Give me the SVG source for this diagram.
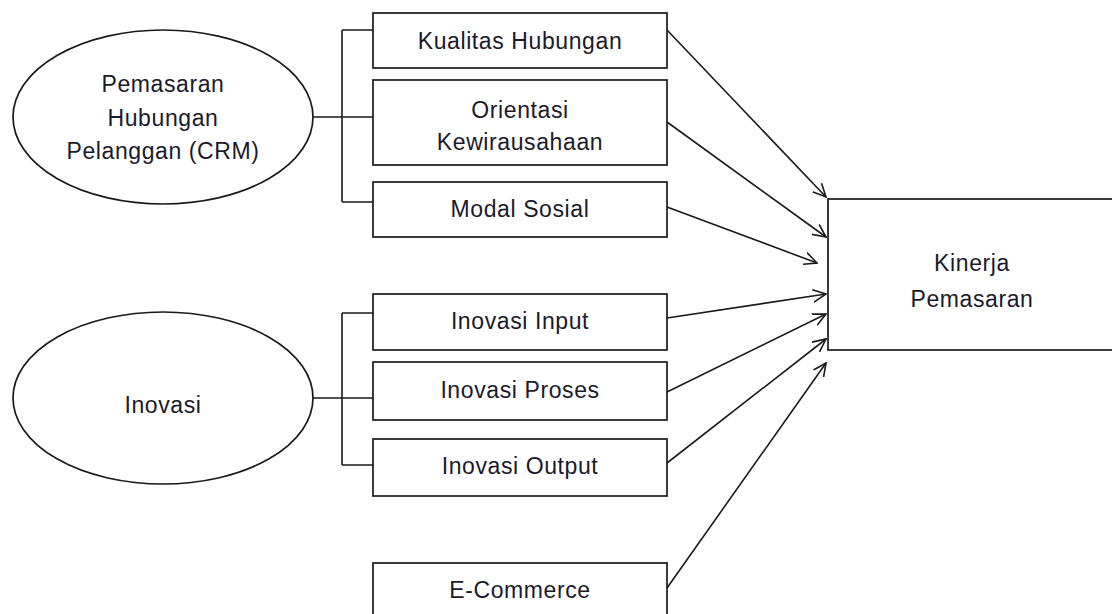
<svg xmlns="http://www.w3.org/2000/svg" width="1112" height="614" viewBox="0 0 1112 614">
<style>
.s{fill:#fff;stroke:#1a1a1a;stroke-width:1.7}
.t{font-family:"Liberation Sans",Arial,sans-serif;font-size:23px;fill:#1a1a2a;text-anchor:middle;letter-spacing:0.6px}
.c{fill:none;stroke:#1a1a1a;stroke-width:1.6}
.a{fill:none;stroke:#1a1a1a;stroke-width:1.6;marker-end:url(#ah)}
</style>
<defs>
<marker id="ah" viewBox="0 0 14 14" refX="13" refY="7" markerWidth="14" markerHeight="14" markerUnits="userSpaceOnUse" orient="auto">
<polyline points="0,0.8 13,7 0,13.2" fill="none" stroke="#1a1a1a" stroke-width="1.6"/>
</marker>
</defs>
<rect width="1112" height="614" fill="#fff"/>
<g id="connectors">
<path class="c" d="M313,117 H374 M342,30 V202 M342,30 H374 M342,202 H374"/>
<path class="c" d="M313,398 H374 M342,313 V465 M342,313 H374 M342,465 H374"/>
<line class="a" x1="667" y1="30" x2="826" y2="197"/>
<line class="a" x1="667" y1="122" x2="826" y2="237"/>
<line class="a" x1="667" y1="207" x2="817" y2="263"/>
<line class="a" x1="667" y1="318" x2="826" y2="294"/>
<line class="a" x1="667" y1="392" x2="826" y2="314"/>
<line class="a" x1="667" y1="463" x2="826" y2="339"/>
<line class="a" x1="667" y1="588" x2="826" y2="363"/>
</g>
<g id="crm">
<ellipse class="s" cx="163" cy="117" rx="150" ry="87"/>
<text class="t" x="163" y="92">Pemasaran</text>
<text class="t" x="163" y="126">Hubungan</text>
<text class="t" x="163" y="159">Pelanggan (CRM)</text>
</g>
<g id="inovasi">
<ellipse class="s" cx="163" cy="398" rx="150" ry="86"/>
<text class="t" x="163" y="413">Inovasi</text>
</g>
<g id="kualitas">
<rect class="s" x="373" y="13" width="294" height="55"/>
<text class="t" x="520" y="49">Kualitas Hubungan</text>
</g>
<g id="orientasi">
<rect class="s" x="373" y="80" width="294" height="85"/>
<text class="t" x="520" y="118">Orientasi</text>
<text class="t" x="520" y="150">Kewirausahaan</text>
</g>
<g id="modal">
<rect class="s" x="373" y="182" width="294" height="55"/>
<text class="t" x="520" y="217">Modal Sosial</text>
</g>
<g id="input">
<rect class="s" x="373" y="294" width="294" height="56"/>
<text class="t" x="520" y="329">Inovasi Input</text>
</g>
<g id="proses">
<rect class="s" x="373" y="362" width="294" height="58"/>
<text class="t" x="520" y="398">Inovasi Proses</text>
</g>
<g id="output">
<rect class="s" x="373" y="439" width="294" height="57"/>
<text class="t" x="520" y="474">Inovasi Output</text>
</g>
<g id="ecommerce">
<rect class="s" x="373" y="563" width="294" height="60"/>
<text class="t" x="520" y="598">E-Commerce</text>
</g>
<g id="kinerja">
<rect class="s" x="828" y="199" width="290" height="151"/>
<text class="t" x="972" y="271">Kinerja</text>
<text class="t" x="972" y="307">Pemasaran</text>
</g>
</svg>
